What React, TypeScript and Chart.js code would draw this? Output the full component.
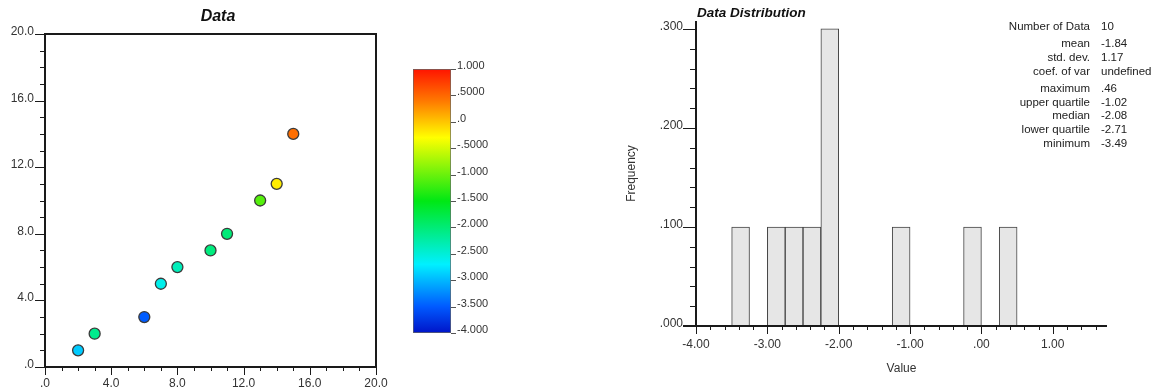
import React, { useEffect, useRef } from "react";
import { Chart, registerables } from "chart.js";

Chart.register(...registerables);

// ---------- data ----------
const xValues = [2, 3, 6, 7, 8, 10, 11, 13, 14, 15];
const yValues = [1, 2, 3, 5, 6, 7, 8, 10, 11, 14];
const colorValues = [-2.9, -2.12, -3.49, -2.6, -2.35, -2.04, -2.01, -1.1, -0.2, 0.46];

const scatterTickValues = [0, 4, 8, 12, 16, 20];
const scatterTickLabels = [".0", "4.0", "8.0", "12.0", "16.0", "20.0"];

const cbTickValues = [1, 0.5, 0, -0.5, -1, -1.5, -2, -2.5, -3, -3.5, -4];
const cbTickLabels = ["1.000", ".5000", ".0", "-.5000", "-1.000", "-1.500", "-2.000", "-2.500", "-3.000", "-3.500", "-4.000"];

const binLeft = [-3.5, -3.0, -2.75, -2.5, -2.25, -1.25, -0.25, 0.25];
const binFreq = [0.1, 0.1, 0.1, 0.1, 0.3, 0.1, 0.1, 0.1];
const binWidth = 0.25;

const histXTickValues = [-4, -3, -2, -1, 0, 1];
const histXTickLabels = ["-4.00", "-3.00", "-2.00", "-1.00", ".00", "1.00"];
const histYTickValues = [0, 0.1, 0.2, 0.3];
const histYTickLabels = [".000", ".100", ".200", ".300"];

const statLabels = ["Number of Data", "mean", "std. dev.", "coef. of var", "maximum", "upper quartile", "median", "lower quartile", "minimum"];
const statValues = ["10", "-1.84", "1.17", "undefined", ".46", "-1.02", "-2.08", "-2.71", "-3.49"];

// ---------- styles ----------
const FONT = '"Liberation Sans", Arial, Helvetica, sans-serif';
const TEXT = "#333";
const AXIS = "#1a1a1a";

const colorStops: [number, number[]][] = [
  [-4.0, [0, 20, 200]],
  [-3.5, [0, 90, 255]],
  [-2.7, [0, 240, 255]],
  [-1.5, [0, 232, 20]],
  [-0.3, [255, 255, 0]],
  [0.4, [255, 120, 0]],
  [1.0, [255, 20, 0]],
];

function colorFor(v: number): string {
  if (v <= colorStops[0][0]) return `rgb(${colorStops[0][1].join(",")})`;
  for (let i = 1; i < colorStops.length; i++) {
    const [v1, c1] = colorStops[i];
    const [v0, c0] = colorStops[i - 1];
    if (v <= v1) {
      const t = (v - v0) / (v1 - v0);
      const c = c0.map((a, k) => Math.round(a + (c1[k] - a) * t));
      return `rgb(${c.join(",")})`;
    }
  }
  return `rgb(${colorStops[colorStops.length - 1][1].join(",")})`;
}

function line(ctx: CanvasRenderingContext2D, x1: number, y1: number, x2: number, y2: number) {
  ctx.beginPath();
  ctx.moveTo(x1, y1);
  ctx.lineTo(x2, y2);
  ctx.stroke();
}

// ---------- plugins ----------
const scatterDecor = {
  id: "scatterDecor",
  afterDraw(chart: any) {
    const { ctx, chartArea: a, scales } = chart;
    const xs = scales.x;
    const ys = scales.y;
    ctx.save();
    ctx.strokeStyle = AXIS;
    ctx.lineWidth = 2;
    ctx.strokeRect(a.left, a.top, a.right - a.left, a.bottom - a.top);
    ctx.lineWidth = 1;
    for (let k = 0; k <= 20; k++) {
      const major = k % 4 === 0;
      const px = Math.round(xs.getPixelForValue(k)) + 0.5;
      line(ctx, px, a.bottom, px, a.bottom + (major ? 8 : 4));
      const py = Math.round(ys.getPixelForValue(k)) + 0.5;
      line(ctx, a.left, py, a.left - (major ? 10 : 5), py);
    }
    ctx.fillStyle = TEXT;
    ctx.font = `12px ${FONT}`;
    scatterTickValues.forEach((v, i) => {
      ctx.textAlign = "center";
      ctx.textBaseline = "alphabetic";
      ctx.fillText(scatterTickLabels[i], xs.getPixelForValue(v), a.bottom + 20);
      ctx.textAlign = "right";
      ctx.fillText(scatterTickLabels[i], a.left - 11, ys.getPixelForValue(v) + 1);
    });
    ctx.fillStyle = "#111";
    ctx.font = `italic bold 16px ${FONT}`;
    ctx.textAlign = "center";
    ctx.textBaseline = "middle";
    ctx.fillText("Data", 218, 17);
    ctx.restore();
  },
};

const colorbarDecor = {
  id: "colorbarDecor",
  afterDraw(chart: any) {
    const { ctx, chartArea: a, scales } = chart;
    const ys = scales.y;
    ctx.save();
    ctx.strokeStyle = "#555";
    ctx.lineWidth = 1;
    ctx.fillStyle = TEXT;
    ctx.font = `11px ${FONT}`;
    ctx.textAlign = "left";
    ctx.textBaseline = "alphabetic";
    cbTickValues.forEach((v, i) => {
      const py = Math.round(ys.getPixelForValue(v)) + 0.5;
      line(ctx, a.right, py, a.right + 5, py);
      ctx.fillText(cbTickLabels[i], a.right + 6, py - 1);
    });
    ctx.restore();
  },
};

const histDecor = {
  id: "histDecor",
  afterDraw(chart: any) {
    const { ctx, chartArea: a, scales } = chart;
    const xs = scales.x;
    const ys = scales.y;
    ctx.save();
    ctx.strokeStyle = AXIS;
    ctx.lineWidth = 2;
    line(ctx, a.left, a.top, a.left, a.bottom + 1);
    line(ctx, a.left - 13, a.bottom, a.right, a.bottom);
    ctx.lineWidth = 1;
    for (let k = 0; k <= 28; k++) {
      const v = -4 + k * 0.2;
      const major = k % 5 === 0;
      const px = Math.round(xs.getPixelForValue(v)) + 0.5;
      line(ctx, px, a.bottom, px, a.bottom + (major ? 8 : 4));
    }
    for (let k = 0; k <= 15; k++) {
      const v = k * 0.02;
      const major = k % 5 === 0;
      const py = Math.round(ys.getPixelForValue(v)) + 0.5;
      line(ctx, a.left, py, a.left - (major ? 13 : 6), py);
    }
    ctx.fillStyle = TEXT;
    ctx.font = `12px ${FONT}`;
    ctx.textBaseline = "alphabetic";
    histXTickValues.forEach((v, i) => {
      ctx.textAlign = "center";
      ctx.fillText(histXTickLabels[i], xs.getPixelForValue(v), a.bottom + 22);
    });
    histYTickValues.forEach((v, i) => {
      ctx.textAlign = "right";
      ctx.fillText(histYTickLabels[i], a.left - 13, ys.getPixelForValue(v) + 1);
    });
    // axis titles
    ctx.textAlign = "center";
    ctx.textBaseline = "middle";
    ctx.fillText("Value", (a.left + a.right) / 2, 369);
    ctx.save();
    ctx.translate(52, (a.top + a.bottom) / 2);
    ctx.rotate(-Math.PI / 2);
    ctx.fillText("Frequency", 0, 0);
    ctx.restore();
    // title
    ctx.fillStyle = "#111";
    ctx.font = `italic bold 13.5px ${FONT}`;
    ctx.textAlign = "left";
    ctx.fillText("Data Distribution", 117, 13);
    // stats
    ctx.fillStyle = "#222";
    ctx.font = `11.5px ${FONT}`;
    let y = 27;
    statLabels.forEach((lab, i) => {
      if (i === 1 || i === 4) y += 3.5;
      ctx.textAlign = "right";
      ctx.fillText(lab, 510, y);
      ctx.textAlign = "left";
      ctx.fillText(statValues[i], 521, y);
      y += 13.7;
    });
    ctx.restore();
  },
};

// ---------- components ----------
function ScatterChart() {
  const ref = useRef<HTMLCanvasElement>(null);
  useEffect(() => {
    const chart = new Chart(ref.current!, {
      type: "scatter",
      data: {
        datasets: [
          {
            data: xValues.map((x, i) => ({ x, y: yValues[i] })),
            pointBackgroundColor: colorValues.map(colorFor),
            pointBorderColor: "#3a3a3a",
            pointBorderWidth: 1.3,
            pointRadius: 5.5,
          },
        ],
      },
      options: {
        animation: false,
        responsive: false,
        layout: { padding: { left: 45, top: 34, right: 24, bottom: 24 } },
        scales: {
          x: { type: "linear", min: 0, max: 20, display: false },
          y: { type: "linear", min: 0, max: 20, display: false },
        },
        plugins: { legend: { display: false }, tooltip: { enabled: false } },
      },
      plugins: [scatterDecor],
    });
    return () => chart.destroy();
  }, []);
  return <canvas ref={ref} width={400} height={391} style={{ position: "absolute", left: 0, top: 0 }} />;
}

function ColorBar() {
  const ref = useRef<HTMLCanvasElement>(null);
  useEffect(() => {
    const lo = cbTickValues[cbTickValues.length - 1];
    const hi = cbTickValues[0];
    const chart = new Chart(ref.current!, {
      type: "bar",
      data: {
        labels: [""],
        datasets: [
          {
            data: [[lo, hi]] as any,
            backgroundColor: (c: any) => {
              const ch = c.chart;
              const ys = ch.scales.y;
              if (!ys || !ch.chartArea) return "#888";
              const y0 = ys.getPixelForValue(lo);
              const y1 = ys.getPixelForValue(hi);
              const g = ch.ctx.createLinearGradient(0, y0, 0, y1);
              colorStops.forEach(([v, col]) => {
                g.addColorStop((v - lo) / (hi - lo), `rgb(${col.join(",")})`);
              });
              return g;
            },
            borderColor: "#666",
            borderWidth: 1,
            borderSkipped: false,
            barPercentage: 1,
            categoryPercentage: 1,
          },
        ],
      },
      options: {
        animation: false,
        responsive: false,
        layout: { padding: { left: 13, top: 69, right: 79, bottom: 58 } },
        scales: {
          x: { display: false },
          y: { type: "linear", min: lo, max: hi, display: false },
        },
        plugins: { legend: { display: false }, tooltip: { enabled: false } },
      },
      plugins: [colorbarDecor],
    });
    return () => chart.destroy();
  }, []);
  return <canvas ref={ref} width={130} height={391} style={{ position: "absolute", left: 400, top: 0 }} />;
}

function Histogram() {
  const ref = useRef<HTMLCanvasElement>(null);
  useEffect(() => {
    const chart = new Chart(ref.current!, {
      type: "bar",
      data: {
        datasets: [
          {
            data: binLeft.map((b, i) => ({ x: b + binWidth / 2, y: binFreq[i] })) as any,
            backgroundColor: "#e6e6e6",
            borderColor: "#444",
            borderWidth: 1,
            borderSkipped: false,
            barPercentage: 1,
            categoryPercentage: 1,
          },
        ],
      },
      options: {
        animation: false,
        responsive: false,
        layout: { padding: { left: 116, top: 21, right: 50, bottom: 65 } },
        scales: {
          x: { type: "linear", min: -4, max: 1.76, offset: false, display: false, ticks: { stepSize: 1 } },
          y: { type: "linear", min: 0, max: 0.308, display: false },
        },
        plugins: { legend: { display: false }, tooltip: { enabled: false } },
      },
      plugins: [histDecor],
    });
    return () => chart.destroy();
  }, []);
  return <canvas ref={ref} width={577} height={391} style={{ position: "absolute", left: 580, top: 0 }} />;
}

export default function App() {
  return (
    <div style={{ position: "absolute", left: 0, top: 0, width: 1157, height: 391, background: "#fff" }}>
      <ScatterChart />
      <ColorBar />
      <Histogram />
    </div>
  );
}
